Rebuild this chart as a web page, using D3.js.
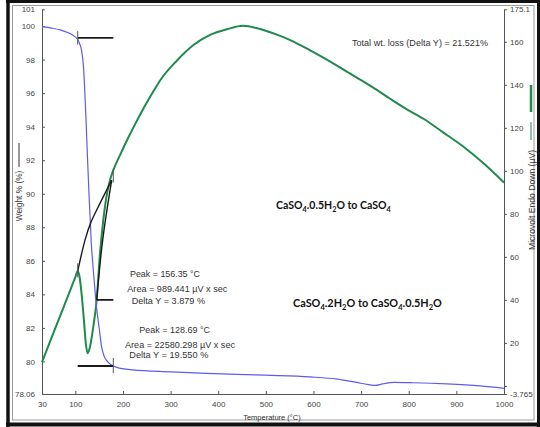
<!DOCTYPE html>
<html><head><meta charset="utf-8">
<script src="https://cdn.jsdelivr.net/npm/d3@7"></script>
<style>body{margin:0;background:#fff}svg{display:block}</style>
</head><body>
<svg id="c" width="540" height="427"></svg>
<script>
// ---- data ----
const tempTicks = [30,100,200,300,400,500,600,700,800,900,1000];
const weightTicks = [101,100,98,96,94,92,90,88,86,84,82,80,78.06];
const dscTicks = [175.1,160,140,120,100,80,60,40,20,0,-3.765];
const dscTickLabels = ["175.1","160","140","120","100","80","60","40","20","","-3.765"];

const tgaTemp   = [30,50,68,85,95,102,105,109,113,117,120.5,123,126,129,131,133,137,141,145,150,155,160,166,175,187,220,300,375,500,593,650,690,715,730,745,770,810,880,950,1000];
const tgaWeight = [99.97,99.88,99.77,99.6,99.45,99.3,99.2,98.95,98.55,97.6,95.7,94.0,91.8,89.8,88.6,87.3,85.7,84.3,83.1,82.0,80.9,80.35,80.05,79.8,79.65,79.5,79.38,79.29,79.18,79.08,78.95,78.75,78.62,78.57,78.66,78.75,78.73,78.66,78.54,78.40];

const dscTemp  = [30,60,90,100,105,109,113,118,122,126,130.8,137.7,144.8,151.8,158.7,165,172.8,180,195,210,222,245,270,278,313,348,383,418,452,488,523,558,593,628,663,698,733,761,796,831,870,915,960,1000];
const dscValue = [11.1,28,44.9,50.6,53.4,50.5,43,30.6,19.8,15.2,18.2,27.5,40,61.7,77.1,87.5,95.7,100.4,107.9,114.9,120.2,129.8,139.2,142.0,151.2,158.5,163.2,165.8,167.4,165.9,163.3,160.1,156.0,151.7,147.1,142.4,137.6,133.5,128.6,124.2,118.2,111.2,102.9,94.5];

// analysis markers (temperature, value)
const tgaOnsetLine = [[105,99.3],[179.7,99.3]];
const tgaOnsetTick = [[105,99.7],[105,98.9]];
const tgaEndLine   = [[105,79.73],[179.7,79.73]];
const tgaEndTick   = [[179.7,80.21],[179.7,79.31]];
const dscBaseLine  = [[144.8,40],[179.7,40]];
const dscBaseCurve = [[105,53.4],[120.3,67.8],[132.2,75.8],[148.2,83.3],[165.8,91.1],[176.3,95.7]];
const dscTangent   = [[144.8,40],[157.4,67.8],[176.3,95.7]];
const dscPeakTick  = [[105,57],[105,50.5]];
const dscEndTick   = [[179.7,101],[179.7,94.5]];

const annotations = [
  {x:130,y:277,w:70,t:"Peak = 156.35 °C"},
  {x:127.3,y:292,w:100,t:"Area = 989.441 µV x sec"},
  {x:131.7,y:303.5,w:73.3,t:"Delta Y = 3.879 %"},
  {x:139.3,y:333,w:70.7,t:"Peak = 128.69 °C"},
  {x:125,y:348,w:110,t:"Area = 22580.298 µV x sec"},
  {x:129.3,y:358,w:79,t:"Delta Y = 19.550 %"},
  {x:352,y:45.5,w:136,t:"Total wt. loss (Delta Y) = 21.521%"}
];
const phaseLabels = [
  {x:276,y:209,w:115,parts:[["CaSO"],["4",1],[".0.5H"],["2",1],["O to CaSO"],["4",1]]},
  {x:293,y:307,w:149,parts:[["CaSO"],["4",1],[".2H"],["2",1],["O to CaSO"],["4",1],[".0.5H"],["2",1],["O"]]}
];

// ---- drawing ----
const svg = d3.select("#c");
const x = d3.scaleLinear().domain([30,1000]).range([42,504]);
const yW = d3.scaleLinear().domain([78.06,101]).range([394,9.3]);
const yD = d3.scaleLinear().domain([-3.765,175.1]).range([394,9.3]);

// frame
svg.append("rect").attr("x",12.5).attr("y",5.5).attr("width",521.5).attr("height",414.5)
  .attr("fill","none").attr("stroke","#9a9a9a").attr("stroke-width",1);
const fr = svg.append("g").attr("stroke","#111");
fr.append("line").attr("x1",6).attr("x2",540).attr("y1",1.5).attr("y2",1.5).attr("stroke-width",3);
fr.append("line").attr("x1",8).attr("x2",8).attr("y1",0).attr("y2",427).attr("stroke-width",3.5);
fr.append("line").attr("x1",6).attr("x2",540).attr("y1",424.5).attr("y2",424.5).attr("stroke-width",4);
fr.append("line").attr("x1",538.5).attr("x2",538.5).attr("y1",0).attr("y2",427).attr("stroke-width",3);

const font = "Liberation Sans, Arial, sans-serif";
function styleAxis(g){
  g.selectAll("path").attr("stroke","#555");
  g.selectAll("line").attr("stroke","#555");
  g.selectAll("text").attr("font-family",font).attr("font-size",8).attr("fill","#444");
}
const ax = svg.append("g").attr("transform","translate(0,394)")
  .call(d3.axisBottom(x).tickValues(tempTicks).tickSize(-3).tickSizeOuter(0).tickPadding(7).tickFormat(d3.format("d")));
styleAxis(ax);
const al = svg.append("g").attr("transform","translate(42,0)")
  .call(d3.axisLeft(yW).tickValues(weightTicks).tickSize(-3).tickSizeOuter(0).tickPadding(7).tickFormat(d=>String(d)));
styleAxis(al);
const ar = svg.append("g").attr("transform","translate(504,0)")
  .call(d3.axisRight(yD).tickValues(dscTicks).tickSize(3).tickSizeOuter(0).tickPadding(3).tickFormat((d,i)=>dscTickLabels[i]));
styleAxis(ar);

// axis titles
svg.append("text").attr("x",272).attr("y",419.5).attr("text-anchor","middle")
  .attr("font-family",font).attr("font-size",7.5).attr("fill","#333").text("Temperature (°C)");
svg.append("text").attr("transform","translate(22,196) rotate(-90)").attr("text-anchor","middle")
  .attr("font-family",font).attr("font-size",8.3).attr("fill","#333").text("Weight % (%)");
svg.append("line").attr("x1",19).attr("x2",19).attr("y1",143).attr("y2",167).attr("stroke","#333").attr("stroke-width",1);
svg.append("text").attr("transform","translate(535,200) rotate(-90)").attr("text-anchor","middle")
  .attr("font-family",font).attr("font-size",8.6).attr("fill","#333").text("Microvolt Endo Down (µV)");
svg.append("line").attr("x1",531).attr("x2",531).attr("y1",85).attr("y2",112).attr("stroke","#1f8a4c").attr("stroke-width",2.5);
svg.append("line").attr("x1",531).attr("x2",531).attr("y1",122).attr("y2",140).attr("stroke","#1f8a4c").attr("stroke-width",1);

// curves
const tga = tgaTemp.map((t,i)=>[t,tgaWeight[i]]);
const dsc = dscTemp.map((t,i)=>[t,dscValue[i]]);
const lineW = d3.line().x(d=>x(d[0])).y(d=>yW(d[1])).curve(d3.curveMonotoneX);
const lineD = d3.line().x(d=>x(d[0])).y(d=>yD(d[1])).curve(d3.curveMonotoneX);
const lineDs = d3.line().x(d=>x(d[0])).y(d=>yD(d[1])).curve(d3.curveCatmullRom);
const lineWs = d3.line().x(d=>x(d[0])).y(d=>yW(d[1]));

svg.append("path").attr("d",lineD(dsc)).attr("fill","none").attr("stroke","#1f8a4c").attr("stroke-width",2);
svg.append("path").attr("d",lineW(tga)).attr("fill","none").attr("stroke","#5c5cf0").attr("stroke-width",1.2);

// markers
const mk = svg.append("g").attr("fill","none").attr("stroke","#1a1a1a");
[tgaOnsetLine,tgaEndLine].forEach(p=>mk.append("path").attr("d",lineWs(p)).attr("stroke-width",1.8));
[tgaOnsetTick,tgaEndTick].forEach(p=>mk.append("path").attr("d",lineWs(p)).attr("stroke-width",1).attr("stroke","#555"));
mk.append("path").attr("d",lineDs(dscBaseLine)).attr("stroke-width",1.8);
mk.append("path").attr("d",lineDs(dscBaseCurve)).attr("stroke-width",1.4);
mk.append("path").attr("d",lineDs(dscTangent)).attr("stroke-width",1.4);
[dscPeakTick,dscEndTick].forEach(p=>mk.append("path").attr("d",lineDs(p)).attr("stroke-width",1).attr("stroke","#555"));

// annotations
annotations.forEach(a=>{
  svg.append("text").attr("x",a.x).attr("y",a.y).attr("font-family",font).attr("font-size",9)
    .attr("fill","#333").attr("textLength",a.w).attr("lengthAdjust","spacingAndGlyphs").text(a.t);
});
phaseLabels.forEach(p=>{
  const g = svg.append("g").attr("transform",`translate(${p.x},${p.y})`);
  const t = g.append("text").attr("font-family","Lato, Open Sans, sans-serif").attr("font-weight","bold")
    .attr("font-size",11.5).attr("fill","#111");
  let sub=false;
  p.parts.forEach(pt=>{
    const isSub = !!pt[1];
    const ts = t.append("tspan").text(pt[0]);
    if(isSub && !sub){ ts.attr("dy",3).attr("font-size",8); }
    else if(isSub){ ts.attr("font-size",8); }
    else if(sub){ ts.attr("dy",-3); }
    sub = isSub;
  });
  const w = t.node().getComputedTextLength();
  t.attr("transform",`scale(${p.w/w},1)`);
});
</script>
</body></html>
